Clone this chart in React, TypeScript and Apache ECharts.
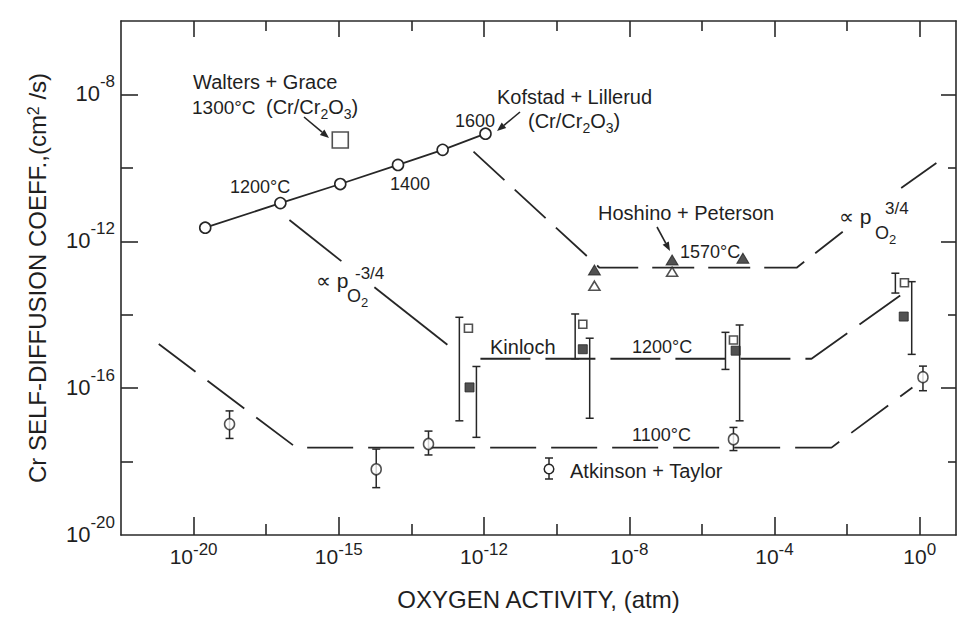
import React, { useEffect, useRef } from 'react';
import * as echarts from 'echarts';

// ---- axis ticks (values are log10) ----
const xTickValues = [-20, -16, -12, -8, -4, 0];
const xTickExponents = ['-20', '-15', '-12', '-8', '-4', '0'];
const xMinorTicks = [-18, -14, -10, -6, -2];
const yTickValues = [-20, -16, -12, -8];
const yTickExponents = ['-20', '-16', '-12', '-8'];
const yMajorTicks = [-16, -12, -8];
const yMinorTicks = [-18, -14, -10];

// ---- data: [log10 pO2, log10 D] ----
const kofstad = [[-19.68, -11.63], [-17.61, -10.96], [-15.96, -10.44], [-14.37, -9.92], [-13.14, -9.51], [-11.96, -9.07]];
const walters = [[-15.96, -9.24]];
const hoshinoFilled = [[-8.96, -12.78], [-6.82, -12.51], [-4.87, -12.46]];
const hoshinoOpen = [[-8.96, -13.21], [-6.82, -12.83]];
const kinlochOpen = [[-12.43, -14.37], [-9.28, -14.26], [-5.13, -14.69], [-0.42, -13.13]];
// [bar x, low, high]
const kinlochOpenBars = [[-12.68, -16.89, -14.07], [-9.49, -15.2, -13.98], [-5.35, -15.49, -14.48], [-0.67, -13.41, -12.87]];
const kinlochFilled = [[-12.4, -15.98], [-9.28, -14.94], [-5.07, -14.98], [-0.44, -14.05]];
const kinlochFilledBars = [[-12.21, -17.34, -15.41], [-9.09, -16.82, -14.64], [-4.96, -16.89, -14.28], [-0.22, -15.08, -13.1]];
const atkinson = [[-19.01, -16.98], [-14.97, -18.21], [-13.53, -17.52], [-5.13, -17.39], [0.09, -15.7]];
const atkinsonBars = [[-19.01, -17.37, -16.62], [-14.97, -18.71, -17.66], [-13.53, -17.82, -17.17], [-5.13, -17.7, -17.07], [0.09, -16.07, -15.4]];

// ---- guide lines ----
const upperLine = [[-12.29, -9.56], [-8.82, -12.72], [-3.39, -12.72], [-2.12, -11.74]];
const upperLineEnd = [[-0.51, -10.55], [0.46, -9.87]];
const middleLineA = [[-17.36, -11.42], [-15.93, -12.54]];
const middleLineB = [[-15.02, -13.25], [-13.01, -14.82]];
const middleLineDashed = [[-12.1, -15.2], [-2.98, -15.2], [-0.51, -13.46]];
const lowerLine = [[-20.96, -14.8], [-17.17, -17.62], [-2.43, -17.62], [-0.2, -15.98]];

const FONT = "'Liberation Sans', Arial, 'DejaVu Sans', sans-serif";
const INK = '#1f1f1f';
const LINE = '#262626';

function tok(size: number, extra: any = {}) {
  return { fontSize: size, fontFamily: FONT, fill: INK, color: INK, ...extra };
}

function txt(x: number, y: number, text: string, size = 20, rich?: any) {
  const style: any = {
    text,
    fill: INK,
    fontSize: size,
    fontFamily: FONT,
    align: 'left',
    verticalAlign: 'middle',
  };
  if (rich) style.rich = rich;
  return { type: 'text', x, y, z: 20, silent: true, style };
}

const subRich = {
  t: tok(20, { verticalAlign: 'top', lineHeight: 20 }),
  d: tok(14, { verticalAlign: 'top', lineHeight: 14, padding: [10, 0, 0, 0] }),
};
const subRichSmall = {
  t: tok(18, { verticalAlign: 'top', lineHeight: 18 }),
  d: tok(13, { verticalAlign: 'top', lineHeight: 13, padding: [9, 0, 0, 0] }),
};

function arrow(x1: number, y1: number, x2: number, y2: number) {
  const a = Math.atan2(y2 - y1, x2 - x1);
  const L = 9;
  const W = 3.5;
  const bx = x2 - L * Math.cos(a);
  const by = y2 - L * Math.sin(a);
  return [
    { type: 'line', z: 20, silent: true, shape: { x1, y1, x2: bx, y2: by }, style: { stroke: LINE, lineWidth: 1.6 } },
    {
      type: 'polygon', z: 20, silent: true,
      shape: { points: [[x2, y2], [bx + W * Math.sin(a), by - W * Math.cos(a)], [bx - W * Math.sin(a), by + W * Math.cos(a)]] },
      style: { fill: LINE },
    },
  ];
}

function errorBars(data: number[][], cap: number) {
  return {
    type: 'custom',
    data,
    encode: { x: 0, y: [1, 2] },
    silent: true,
    z: 3,
    renderItem: (_p: any, api: any) => {
      const x = api.value(0);
      const lo = api.coord([x, api.value(1)]);
      const hi = api.coord([x, api.value(2)]);
      const st = { stroke: LINE, lineWidth: 1.5 };
      return {
        type: 'group',
        children: [
          { type: 'line', shape: { x1: lo[0], y1: lo[1], x2: hi[0], y2: hi[1] }, style: st },
          { type: 'line', shape: { x1: lo[0] - cap, y1: lo[1], x2: lo[0] + cap, y2: lo[1] }, style: st },
          { type: 'line', shape: { x1: hi[0] - cap, y1: hi[1], x2: hi[0] + cap, y2: hi[1] }, style: st },
        ],
      };
    },
  };
}

function guide(data: number[][], dash: any) {
  return {
    type: 'line',
    data,
    symbol: 'none',
    silent: true,
    z: 2,
    lineStyle: { color: LINE, width: 1.8, type: dash },
  };
}

function scatter(data: number[][], symbol: string, size: any, filled: boolean, z = 5) {
  return {
    type: 'scatter',
    data,
    symbol,
    symbolSize: size,
    silent: true,
    z,
    itemStyle: filled
      ? { color: LINE, borderColor: LINE, borderWidth: 1 }
      : { color: '#fff', borderColor: LINE, borderWidth: 1.6 },
  };
}

const axisLineStyle = { color: '#2a2a2a', width: 1.6 };

function xAxisCfg(position: string, ticks: number[], len: number, main: boolean) {
  const ax: any = {
    type: 'value',
    min: -22,
    max: 1,
    interval: 2,
    position,
    axisLine: { show: main, onZero: false, lineStyle: axisLineStyle },
    axisTick: { show: true, inside: true, length: len, customValues: ticks, lineStyle: axisLineStyle },
    axisLabel: { show: false },
    splitLine: { show: false },
  };
  if (main && position === 'bottom') {
    ax.axisLabel = {
      show: true,
      customValues: xTickValues,
      margin: 6,
      formatter: (v: number) => `{b|10}{s|${xTickExponents[xTickValues.indexOf(Math.round(v))]}}`,
      rich: {
        b: tok(21, { lineHeight: 21, verticalAlign: 'top', padding: [5, 0, 0, 0] }),
        s: tok(17, { lineHeight: 17, verticalAlign: 'top' }),
      },
    };
    ax.name = 'OXYGEN ACTIVITY, (atm)';
    ax.nameLocation = 'middle';
    ax.nameGap = 52;
    ax.nameTextStyle = { fontSize: 24, fontFamily: FONT, color: INK };
  }
  return ax;
}

function yAxisCfg(position: string, ticks: number[], len: number, main: boolean) {
  const ax: any = {
    type: 'value',
    min: -20,
    max: -6,
    interval: 2,
    position,
    axisLine: { show: main, onZero: false, lineStyle: axisLineStyle },
    axisTick: { show: true, inside: true, length: len, customValues: ticks, lineStyle: axisLineStyle },
    axisLabel: { show: false },
    splitLine: { show: false },
  };
  if (main && position === 'left') {
    ax.axisLabel = {
      show: true,
      customValues: yTickValues,
      margin: 6,
      padding: [0, 0, 20, 0],
      formatter: (v: number) => `{b|10}{s|${yTickExponents[yTickValues.indexOf(Math.round(v))]}}`,
      rich: {
        b: tok(22, { lineHeight: 22, verticalAlign: 'top', padding: [9, 0, 0, 0] }),
        s: tok(17, { lineHeight: 17, verticalAlign: 'top' }),
      },
    };
    ax.name = 'Cr SELF-DIFFUSION COEFF.,(cm{s|2} /s)';
    ax.nameLocation = 'middle';
    ax.nameGap = 61;
    ax.nameTextStyle = {
      fontSize: 24,
      fontFamily: FONT,
      color: INK,
      rich: { s: tok(16, { lineHeight: 16, verticalAlign: 'top', padding: [0, 0, 14, 0] }) },
    };
  }
  return ax;
}

export default function App() {
  const ref = useRef<HTMLDivElement>(null);
  useEffect(() => {
    if (!ref.current) return;
    const chart = echarts.init(ref.current, undefined, { renderer: 'svg' });
    const graphic: any[] = [
      txt(193, 82, 'Walters + Grace'),
      txt(192, 107, '1300°C', 19),
      txt(266, 107, '{t|(Cr/Cr}{d|2}{t|O}{d|3}{t|)}', 20, subRich),
      txt(230, 187, '1200°C', 18),
      txt(390, 184, '1400', 18),
      txt(455, 121, '1600', 18),
      txt(497, 97, 'Kofstad + Lillerud'),
      txt(528, 121, '{t|(Cr/Cr}{d|2}{t|O}{d|3}{t|)}', 20, subRich),
      txt(598, 213, 'Hoshino + Peterson'),
      txt(680, 252, '1570°C', 18),
      txt(490, 347, 'Kinloch'),
      txt(632, 347, '1200°C', 18),
      txt(632, 435, '1100°C', 18),
      txt(570, 471, 'Atkinson + Taylor'),
      txt(316, 280, '∝ p', 21),
      txt(355, 273, '-3/4', 17),
      txt(347, 296, '{t|O}{d|2}', 18, subRichSmall),
      txt(839, 216, '∝ p', 21),
      txt(885, 208, '3/4', 17),
      txt(875, 233, '{t|O}{d|2}', 18, subRichSmall),
      ...arrow(304, 117, 329, 138),
      ...arrow(520, 112, 497, 131),
      ...arrow(657, 227, 670, 251),
      // Atkinson + Taylor key symbol
      { type: 'line', z: 20, silent: true, shape: { x1: 549, y1: 458, x2: 549, y2: 479 }, style: { stroke: LINE, lineWidth: 1.5 } },
      { type: 'line', z: 20, silent: true, shape: { x1: 545, y1: 458, x2: 553, y2: 458 }, style: { stroke: LINE, lineWidth: 1.5 } },
      { type: 'line', z: 20, silent: true, shape: { x1: 545, y1: 479, x2: 553, y2: 479 }, style: { stroke: LINE, lineWidth: 1.5 } },
      { type: 'circle', z: 21, silent: true, shape: { cx: 549, cy: 469, r: 4.8 }, style: { fill: '#fff', stroke: LINE, lineWidth: 1.5 } },
    ];

    chart.setOption({
      animation: false,
      backgroundColor: '#ffffff',
      grid: { left: 121, top: 21, width: 835, height: 514, containLabel: false },
      xAxis: [
        xAxisCfg('bottom', xTickValues, 18, true),
        xAxisCfg('bottom', xMinorTicks, 11, false),
        xAxisCfg('top', xTickValues, 16, true),
        xAxisCfg('top', xMinorTicks, 10, false),
      ],
      yAxis: [
        yAxisCfg('left', yMajorTicks, 17, true),
        yAxisCfg('left', yMinorTicks, 12, false),
        yAxisCfg('right', yMajorTicks, 15, true),
        yAxisCfg('right', yMinorTicks, 8, false),
      ],
      graphic,
      series: [
        guide(lowerLine, [46, 15]),
        guide(middleLineA, 'solid'),
        guide(middleLineB, 'solid'),
        guide(middleLineDashed, [50, 15]),
        guide(upperLine, [42, 14]),
        guide(upperLineEnd, 'solid'),
        {
          type: 'line',
          data: kofstad,
          symbol: 'circle',
          symbolSize: 11,
          silent: true,
          z: 4,
          lineStyle: { color: LINE, width: 1.8 },
          itemStyle: { color: '#fff', borderColor: LINE, borderWidth: 1.6 },
        },
        scatter(walters, 'rect', 16, false),
        scatter(hoshinoFilled, 'triangle', [12, 10], true),
        scatter(hoshinoOpen, 'triangle', [11, 9], false),
        errorBars(kinlochOpenBars, 4),
        errorBars(kinlochFilledBars, 4),
        scatter(kinlochOpen, 'rect', 8, false),
        scatter(kinlochFilled, 'rect', 9, true),
        errorBars(atkinsonBars, 4),
        scatter(atkinson, 'circle', [10, 11], false, 6),
      ],
    });
    return () => chart.dispose();
  }, []);
  return (
    <div
      ref={ref}
      style={{ position: 'fixed', left: 0, top: 0, width: 960, height: 617, background: '#fff' }}
    />
  );
}
